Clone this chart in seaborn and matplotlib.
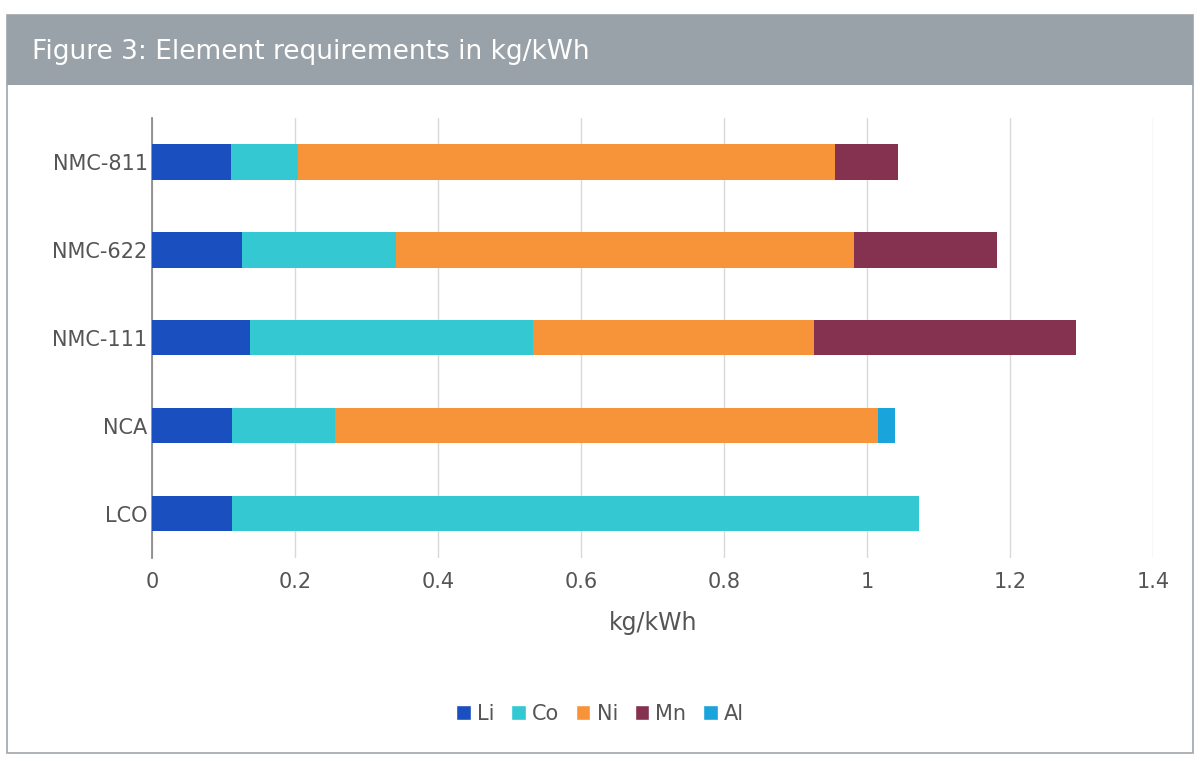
import matplotlib
matplotlib.use("Agg")
import matplotlib.pyplot as plt
import seaborn as sns
import pandas as pd
from matplotlib.patches import Rectangle, Patch

categories = ["NMC-811", "NMC-622", "NMC-111", "NCA", "LCO"]
elements = ["Li", "Co", "Ni", "Mn", "Al"]
li = [0.110, 0.126, 0.137, 0.112, 0.112]
co = [0.094, 0.215, 0.396, 0.143, 0.961]
ni = [0.751, 0.641, 0.393, 0.760, 0.0]
mn = [0.088, 0.200, 0.366, 0.0, 0.0]
al = [0.0, 0.0, 0.0, 0.024, 0.0]
colors = ["#1a4fc0", "#33c8d2", "#f7943a", "#84324f", "#1aa4dc"]

sns.set_theme(style="white")
fig = plt.figure(figsize=(12, 7.61), dpi=100)
fig.patches.append(Rectangle((0.006, 0.01), 0.988, 0.97, transform=fig.transFigure,
                             fill=False, edgecolor="#a0a6ab", linewidth=1.2))
fig.patches.append(Rectangle((0.006, 0.888), 0.988, 0.092, transform=fig.transFigure,
                             facecolor="#9aa2a9", edgecolor="none"))
fig.text(0.027, 0.932, "Figure 3: Element requirements in kg/kWh", color="white",
         fontsize=19, va="center", ha="left")

ax = fig.add_axes([0.127, 0.267, 0.834, 0.578])
df = pd.DataFrame({"cat": categories, "Li": li, "Co": co, "Ni": ni, "Mn": mn, "Al": al})
cums = []
left = [0.0] * len(categories)
for el in elements:
    left = [l + v for l, v in zip(left, df[el].tolist())]
    cums.append(left)
# draw longest cumulative first so shorter segments sit on top
for cum, c in reversed(list(zip(cums, colors))):
    sns.barplot(x=cum, y=categories, color=c, ax=ax, orient="h", width=0.4,
                saturation=1, order=categories, zorder=3)
for p in ax.patches:
    p.set_edgecolor("none")

ax.set_xlim(0, 1.4)
ax.set_xticks([0, 0.2, 0.4, 0.6, 0.8, 1.0, 1.2, 1.4])
ax.set_xticklabels(["0", "0.2", "0.4", "0.6", "0.8", "1", "1.2", "1.4"])
ax.set_xlabel("kg/kWh", fontsize=17, color="#555555", labelpad=14)
ax.set_ylabel("")
ax.tick_params(axis="both", labelsize=15, colors="#555555", length=0)
ax.tick_params(axis="x", pad=10)
ax.grid(axis="x", color="#d9d9d9", linewidth=1, zorder=0)
ax.set_axisbelow(True)
for s in ["top", "right", "bottom"]:
    ax.spines[s].set_visible(False)
ax.spines["left"].set_color("#888888")

handles = [Patch(facecolor=c, label=e) for e, c in zip(elements, colors)]
fig.legend(handles=handles, loc="center", bbox_to_anchor=(0.5, 0.062), ncol=5,
           frameon=False, fontsize=15, handlelength=0.7, handleheight=0.7,
           columnspacing=0.8, handletextpad=0.3, labelcolor="#555555")
fig.savefig("out.png", dpi=100)
